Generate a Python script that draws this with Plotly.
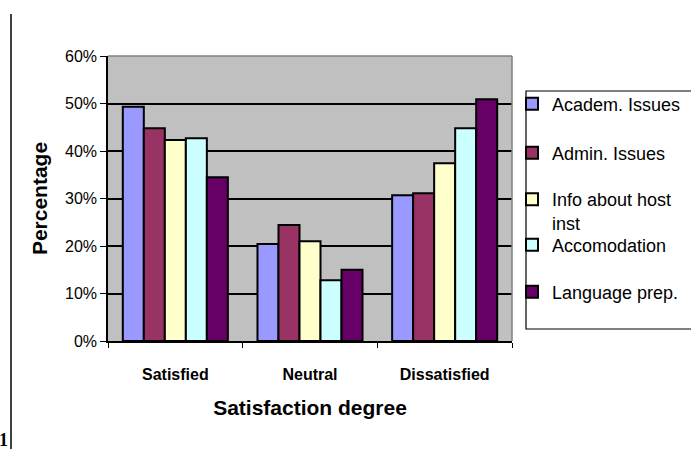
import plotly.graph_objects as go

categories = ["Satisfied", "Neutral", "Dissatisfied"]
series_names = ["Academ. Issues", "Admin. Issues", "Info about host<br>inst", "Accomodation", "Language prep."]
academ = [0.493, 0.204, 0.307]
admin = [0.448, 0.244, 0.311]
info = [0.423, 0.210, 0.374]
accom = [0.427, 0.128, 0.448]
language = [0.345, 0.150, 0.509]
y_ticks = [0, 0.1, 0.2, 0.3, 0.4, 0.5, 0.6]

series_values = [academ, admin, info, accom, language]
colors = ["#9999FF", "#993366", "#FFFFCC", "#CCFFFF", "#660066"]

FONT = "Arial, Liberation Sans, sans-serif"

# plot area in pixels (left, right, top, bottom)
W, H = 691, 449
PL, PR, PT, PB = 108, 512, 56, 341
PW, PH = PR - PL, PB - PT


def px_x(x):
    return (x - PL) / PW


def px_y(y):
    return (PB - y) / PH


legend_ids = ["legend", "legend2", "legend3", "legend4", "legend5"]
legend_rows = [104, 153, 211, 245, 292]

fig = go.Figure()
for name, vals, col, lid in zip(series_names, series_values, colors, legend_ids):
    fig.add_trace(go.Bar(
        x=categories, y=vals, name=name,
        marker=dict(color=col, line=dict(color="black", width=2)),
        legend=lid,
    ))

legend_layout = {}
for lid, row in zip(legend_ids, legend_rows):
    legend_layout[lid] = dict(
        x=px_x(512), y=px_y(row), xanchor="left", yanchor="middle",
        bgcolor="rgba(0,0,0,0)", borderwidth=0,
        font=dict(size=18, family=FONT, color="black"),
        itemwidth=30, itemsizing="constant", valign="top",
    )

fig.update_layout(
    width=W, height=H,
    margin=dict(l=PL, r=W - PR, t=PT, b=H - PB, autoexpand=False),
    paper_bgcolor="white",
    plot_bgcolor="#C0C0C0",
    barmode="group",
    bargap=0.22, bargroupgap=0.0,
    font=dict(family=FONT, color="black"),
    showlegend=True,
    xaxis=dict(
        showline=True, linecolor="black", linewidth=1.5,
        ticks="outside", tickson="boundaries", ticklen=5, tickcolor="black",
        ticklabelstandoff=18,
        tickfont=dict(size=16, family=FONT, color="black", weight="bold"),
        title=dict(text="<b>Satisfaction degree</b>", font=dict(size=21, family=FONT), standoff=18),
    ),
    yaxis=dict(
        range=[0, 0.6], tickvals=y_ticks, tickformat=".0%",
        showline=True, linecolor="black", linewidth=1.5,
        ticks="outside", ticklen=6, tickcolor="black",
        showgrid=True, gridcolor="black", gridwidth=1.5,
        zeroline=False,
        tickfont=dict(size=16, family=FONT, color="black"),
        title=dict(text="<b>Percentage</b>", font=dict(size=21, family=FONT), standoff=12),
    ),
    **legend_layout,
)

# legend frame
fig.add_shape(type="rect", xref="paper", yref="paper",
              x0=px_x(526), x1=px_x(700), y0=px_y(329), y1=px_y(91),
              line=dict(color="black", width=1.2), fillcolor="white", layer="below")

# plot-area border on the top and right
fig.add_shape(type="line", xref="paper", yref="paper", x0=0, x1=1, y0=1, y1=1,
              line=dict(color="#808080", width=1.5), layer="above")
fig.add_shape(type="line", xref="paper", yref="paper", x0=1, x1=1, y0=0, y1=1,
              line=dict(color="#808080", width=1.5), layer="above")

# page margin rule and page number
fig.add_shape(type="line", xref="paper", yref="paper",
              x0=px_x(11), x1=px_x(11), y0=px_y(H), y1=px_y(14),
              line=dict(color="black", width=1.5))
fig.add_annotation(text="<b>1</b>", xref="paper", yref="paper",
                   x=px_x(10), y=px_y(440), xanchor="right", yanchor="middle",
                   showarrow=False, font=dict(size=18, family="Liberation Serif, serif", color="black"))

fig.write_html("out.html")
